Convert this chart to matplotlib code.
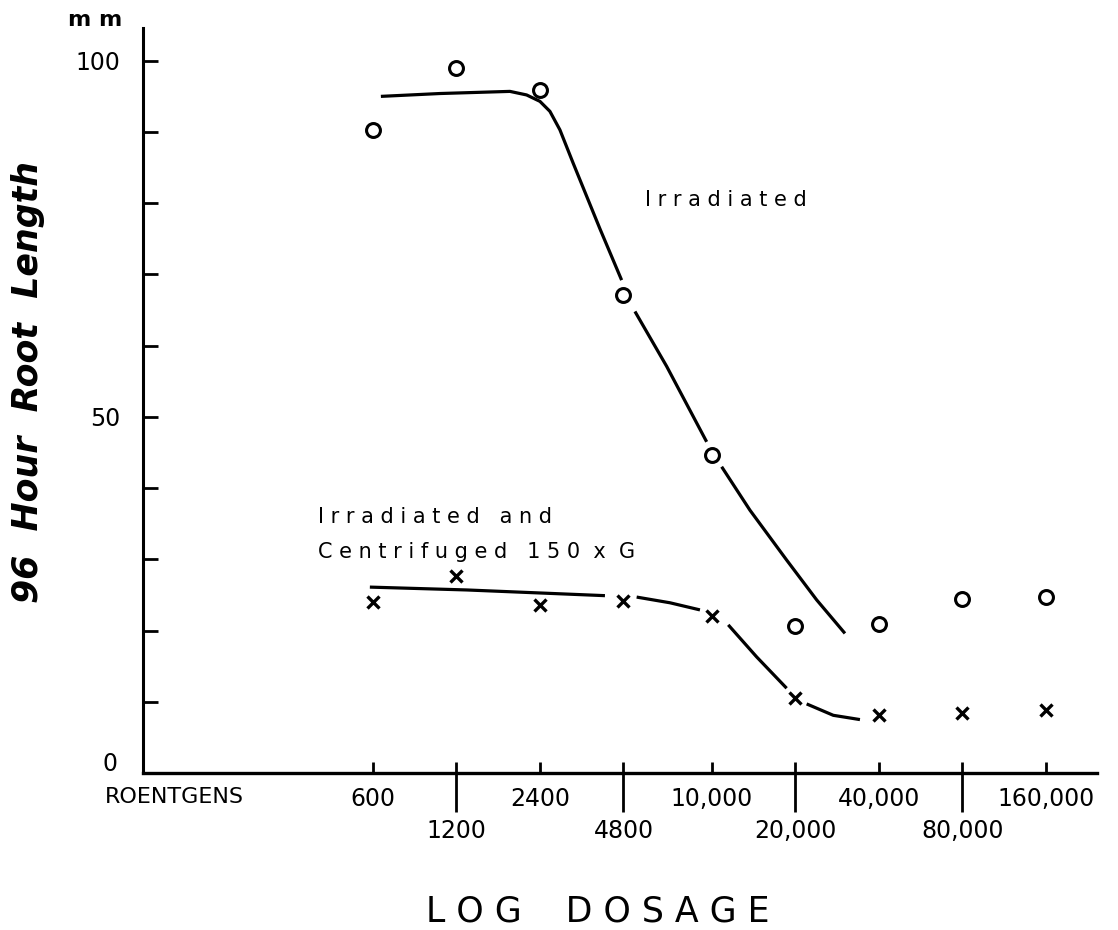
import numpy as np
import matplotlib
matplotlib.use("Agg")
import matplotlib.pyplot as plt
from matplotlib.ticker import FixedLocator, NullFormatter

# doses (roentgens) and measured root lengths (mm)
doses = [600, 1200, 2400, 4800, 10000, 20000, 40000, 80000, 160000]
dose_labels = ["600", "\n1200", "2400", "\n4800", "10,000", "\n20,000",
               "40,000", "\n80,000", "160,000"]
long_ticks = [1200, 4800, 20000, 80000]

irr_mm = [90.3, 99.0, 95.9, 67.1, 44.7, 20.7, 20.9, 24.5, 24.7]
cent_mm = [24.0, 27.6, 23.6, 24.1, 22.1, 10.5, 8.1, 8.4, 8.9]

# hand drawn fit curves, nan = break in the line at a marker
irr_curve_dose = [641, 1046, 1871, 2149, 2400, 2607, 2833, 3164, 3950, 4728, np.nan,
                  5281, 6870, 9576, np.nan,
                  10846, 13717, 18600, 23868, 30180]
irr_curve_mm = [95.0, 95.4, 95.7, 95.2, 94.3, 92.9, 90.3, 85.6, 76.4, 69.2, np.nan,
                64.8, 57.1, 46.5, np.nan,
                43.0, 36.9, 29.9, 24.3, 19.6]

cent_curve_dose = [585, 1306, 4117, np.nan,
                   5356, 7062, 9058, np.nan,
                   11456, 14501, 18600, np.nan,
                   21960, 27395, 34183]
cent_curve_mm = [26.1, 25.7, 24.9, np.nan,
                 24.7, 23.9, 22.9, np.nan,
                 20.8, 16.3, 11.9, np.nan,
                 9.7, 8.1, 7.5]

fig = plt.figure(figsize=(11.18, 9.30), dpi=100)
ax = fig.add_axes([143/1118, 1-773/930, (1097-143)/1118, (773-28)/930])

ax.plot(irr_curve_dose, irr_curve_mm, color="black", lw=2.3, solid_capstyle="butt")
ax.plot(cent_curve_dose, cent_curve_mm, color="black", lw=2.3, solid_capstyle="butt")
ax.plot(doses, irr_mm, "o", ms=10, mfc="white", mec="black", mew=2.2, ls="none")
ax.plot(doses, cent_mm, "x", ms=9, mec="black", mew=2.4, ls="none")

ax.set_xscale("log", base=2)
ax.set_xlim(89, 244500)
ax.set_ylim(0, 104.6)

for s in ["top", "right"]:
    ax.spines[s].set_visible(False)
ax.spines["left"].set_linewidth(2.2)
ax.spines["bottom"].set_linewidth(2.4)

ax.set_xticks(doses)
ax.set_xticklabels(dose_labels, fontsize=17)
ax.xaxis.remove_overlapping_locs = False
ax.xaxis.set_minor_locator(FixedLocator(long_ticks))
ax.xaxis.set_minor_formatter(NullFormatter())
ax.tick_params(axis="x", which="major", direction="in", length=8, width=2, pad=10)
ax.tick_params(axis="x", which="minor", direction="out", length=28, width=2)
for lab in ax.get_xticklabels():
    lab.set_linespacing(1.45)

ax.set_yticks(range(0, 101, 10))
ax.set_yticklabels(["", "", "", "", "", "50", "", "", "", "", "100"], fontsize=17)
ax.tick_params(axis="y", direction="in", length=11, width=2, pad=16)
ax.text(-0.0346, 0.012, "0", transform=ax.transAxes, fontsize=17,
        ha="center", va="center")

ax.text(-0.04, -0.032, "ROENTGENS", transform=ax.transAxes, fontsize=16,
        ha="left", va="center")
fig.text(122/1118, 1-20/930, "m m", fontsize=16, fontweight="bold",
         ha="right", va="center")
fig.text(28/1118, 1-382/930, "96  Hour  Root  Length", rotation=90, fontsize=25,
         fontweight="bold", style="italic", ha="center", va="center")
fig.text(598/1118, 1-911/930, "L O G    D O S A G E", fontsize=25,
         ha="center", va="center")

ax.text(5737, 80.5, "I r r a d i a t e d", fontsize=15, ha="left", va="center")
ax.text(380, 36.0, "I r r a d i a t e d   a n d", fontsize=15, ha="left", va="center")
ax.text(380, 31.0, "C e n t r i f u g e d   1 5 0  x  G", fontsize=15,
        ha="left", va="center")

fig.savefig("out.png", dpi=100)
